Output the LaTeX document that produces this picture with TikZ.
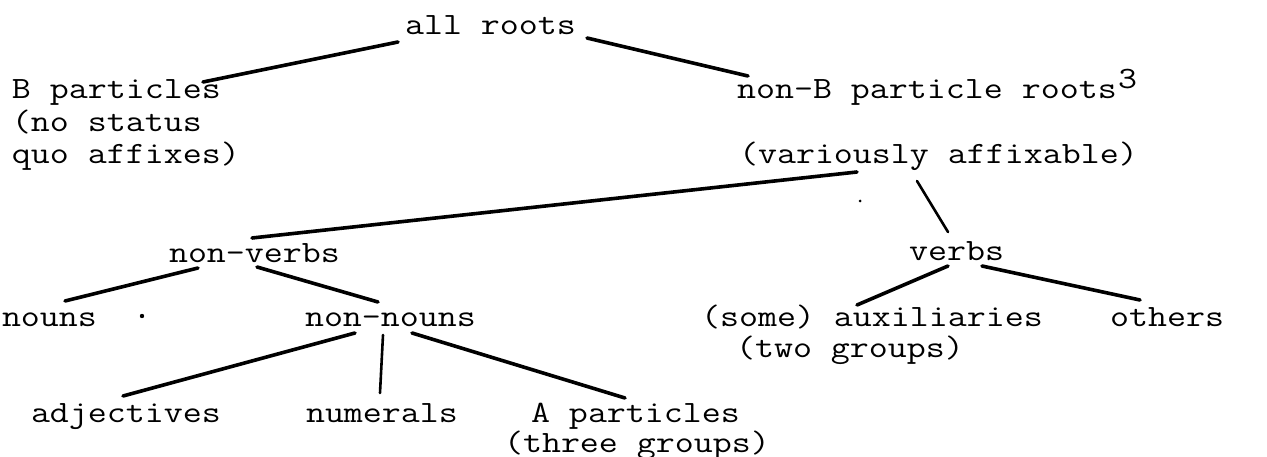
\documentclass[tikz,border=0pt]{standalone}
\usepackage{fontspec}
\usepackage{graphicx}
% typewriter face: Latin Modern Mono, widened to a pica-like pitch
\newcommand{\twfont}{\ttfamily\fontsize{31}{32}\selectfont}
\newcommand{\tw}[1]{\scalebox{1.19}[1]{#1}}
\begin{document}
\begin{tikzpicture}[x=1pt,y=-1pt,
  lbl/.style={anchor=base west, inner sep=0pt, outer sep=0pt, font=\twfont},
  branch/.style={line width=3.6pt, line cap=round},
  thinbranch/.style={line width=2.6pt, line cap=round},
  speck/.style={fill=black, draw=none}]
\useasboundingbox (0,0) rectangle (1267,457);

% --- labels (left edge, baseline) ---
\node[lbl] (allroots)   at (405,35)  {\tw{all roots}};
\node[lbl] (bpart)      at (12,99)   {\tw{B particles}};
\node[lbl] (bpart-2)    at (12,131.5){\tw{(no status}};
\node[lbl] (bpart-3)    at (12,164)  {\tw{quo affixes)}};
\node[lbl] (nonb)       at (737,99)  {\tw{non-B particle roots\kern1pt\raisebox{10pt}{3}}};
\node[lbl] (variously)  at (739,164) {\tw{(variously affixable)}};
\node[lbl] (nonverbs)   at (169,262) {\tw{non-verbs}};
\node[lbl] (verbs)      at (909,261) {\tw{verbs}};
\node[lbl] (nouns)      at (2,326)   {\tw{nouns}};
\node[lbl] (nonnouns)   at (305,326) {\tw{non-nouns}};
\node[lbl] (aux)        at (701,326) {\tw{(some) auxiliaries}};
\node[lbl] (aux-2)      at (736,357) {\tw{(two groups)}};
\node[lbl] (others)     at (1110,326){\tw{others}};
\node[lbl] (adjectives) at (31,422)  {\tw{adjectives}};
\node[lbl] (numerals)   at (306,422) {\tw{numerals}};
\node[lbl] (apart)      at (531,422) {\tw{A particles}};
\node[lbl] (apart-2)    at (504,452) {\tw{(three groups)}};

% --- stray typewriter specks ---
\fill[speck] (142,316) circle (2.2pt);
\fill[speck] (860,201) circle (1.5pt);

% --- branches ---
\draw[branch] ([shift={(-7,7)}]allroots.base west) -- ([shift={(191,-17)}]bpart.base west);
\draw[branch] ([shift={(182,3)}]allroots.base west) -- ([shift={(11,-23)}]nonb.base west);
\draw[branch] ([shift={(118,8)}]variously.base west) -- ([shift={(83,-24)}]nonverbs.base west);
\draw[thinbranch] ([shift={(178,17)}]variously.base west) -- ([shift={(39,-29)}]verbs.base west);
\draw[branch] ([shift={(29,6)}]nonverbs.base west) -- ([shift={(63,-25)}]nouns.base west);
\draw[branch] ([shift={(88,5)}]nonverbs.base west) -- ([shift={(73,-24)}]nonnouns.base west);
\draw[branch] ([shift={(50,7)}]nonnouns.base west) -- ([shift={(92,-26)}]adjectives.base west);
\draw[thinbranch] ([shift={(78,9)}]nonnouns.base west) -- ([shift={(74,-29)}]numerals.base west);
\draw[branch] ([shift={(107,7)}]nonnouns.base west) -- ([shift={(94,-24)}]apart.base west);
\draw[branch] ([shift={(39,5)}]verbs.base west) -- ([shift={(156,-21)}]aux.base west);
\draw[branch] ([shift={(73,5)}]verbs.base west) -- ([shift={(30,-26)}]others.base west);
\end{tikzpicture}
\end{document}
